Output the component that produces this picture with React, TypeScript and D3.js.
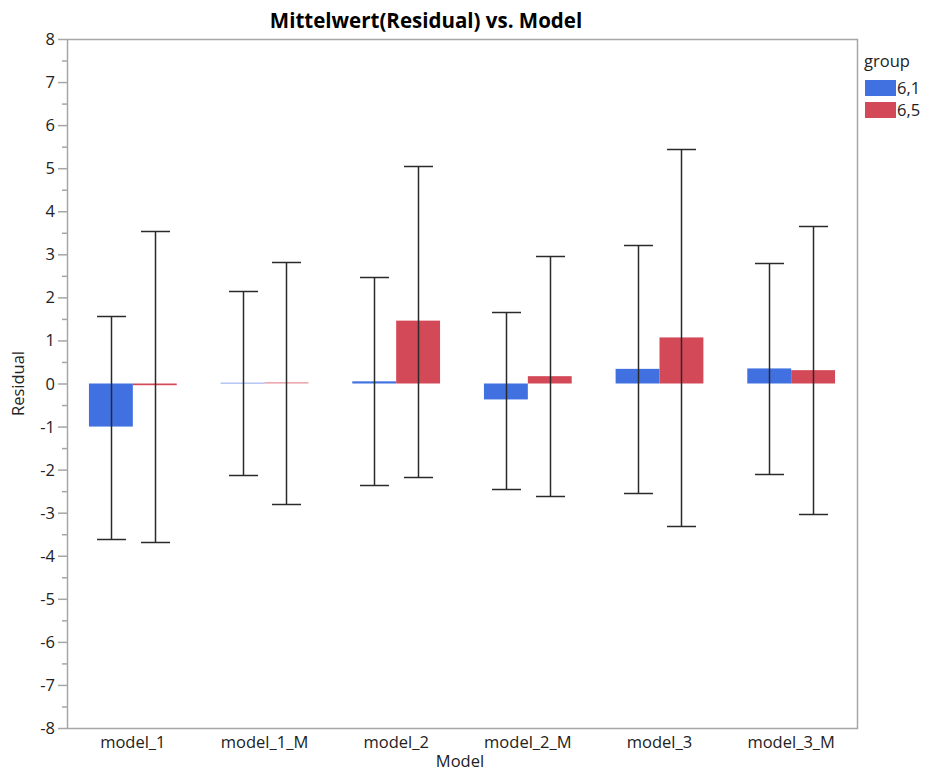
import React from "react";
import * as d3 from "d3";

const categories = ["model_1", "model_1_M", "model_2", "model_2_M", "model_3", "model_3_M"];
const groups = ["6,1", "6,5"];
const colors = ["#4170E0", "#D44958"];
const means61 = [-1.0, 0.02, 0.05, -0.37, 0.34, 0.35];
const means65 = [-0.04, 0.03, 1.46, 0.17, 1.07, 0.31];
const upper61 = [1.57, 2.15, 2.47, 1.67, 3.22, 2.8];
const lower61 = [-3.6, -2.13, -2.35, -2.45, -2.55, -2.1];
const upper65 = [3.55, 2.83, 5.05, 2.97, 5.45, 3.65];
const lower65 = [-3.68, -2.8, -2.17, -2.62, -3.32, -3.03];
const yTicks = d3.range(-8, 9, 1);
const yMinor = d3.range(-7.5, 8, 1);

export default function App() {
  const W = 925, H = 773;
  const left = 67, right = 857, top = 39, bottom = 728;
  const font = "'Open Sans', 'Noto Sans', sans-serif";
  const x = d3.scaleBand().domain(categories).range([left, right]).paddingInner(1 / 3).paddingOuter(1 / 6);
  const xg = d3.scaleBand().domain(groups).range([0, x.bandwidth()]);
  const y = d3.scaleLinear().domain([-8, 8]).range([bottom, top]);
  const means = [means61, means65];
  const uppers = [upper61, upper65];
  const lowers = [lower61, lower65];
  const capW = 29;
  const fs = 16.5;
  return (
    <svg width={W} height={H} style={{ display: "block", position: "absolute", left: 0, top: 0 }} fontFamily={font}>
      <rect x={0} y={0} width={W} height={H} fill="#fff" />
      <text x={426} y={28} textAnchor="middle" fontSize={20.5} fontWeight="bold" fill="#000">
        Mittelwert(Residual) vs. Model
      </text>
      {/* bars */}
      {groups.map((g, gi) =>
        categories.map((c, ci) => {
          const v = means[gi][ci];
          const x0 = (x(c) as number) + (xg(g) as number);
          const y0 = Math.min(y(v), y(0));
          const h = Math.max(Math.abs(y(v) - y(0)), 1);
          return <rect key={g + c} x={x0} y={y0} width={xg.bandwidth()} height={h} fill={colors[gi]} opacity={Math.abs(y(v) - y(0)) < 1.5 ? 0.6 : 1} />;
        })
      )}
      {/* error bars */}
      {groups.map((g, gi) =>
        categories.map((c, ci) => {
          const cx = Math.round((x(c) as number) + (xg(g) as number) + xg.bandwidth() / 2) + 0.5;
          const yu = Math.round(y(uppers[gi][ci])) + 0.5;
          const yl = Math.round(y(lowers[gi][ci])) + 0.5;
          return (
            <g key={"e" + g + c} stroke="#2a2a2a" strokeWidth={1.5}>
              <line x1={cx} x2={cx} y1={yu} y2={yl} />
              <line x1={cx - capW / 2} x2={cx + capW / 2} y1={yu} y2={yu} />
              <line x1={cx - capW / 2} x2={cx + capW / 2} y1={yl} y2={yl} />
            </g>
          );
        })
      )}
      {/* frame */}
      <rect x={left + 0.5} y={top + 0.5} width={right - left} height={bottom - top} fill="none" stroke="#a6a6a6" strokeWidth={1.5} />
      {/* y ticks */}
      {yTicks.map((t) => (
        <g key={"t" + t}>
          <line x1={left - 9} x2={left} y1={y(t) + 0.5} y2={y(t) + 0.5} stroke="#a6a6a6" strokeWidth={1.5} />
          <text x={left - 12} y={y(t) + 6} textAnchor="end" fontSize={fs} fill="#222">
            {t}
          </text>
        </g>
      ))}
      {yMinor.map((t) => (
        <line key={"m" + t} x1={left - 5} x2={left} y1={y(t) + 0.5} y2={y(t) + 0.5} stroke="#a6a6a6" strokeWidth={1.5} />
      ))}
      {/* x labels */}
      {categories.map((c) => (
        <text key={"x" + c} x={(x(c) as number) + x.bandwidth() / 2} y={748} textAnchor="middle" fontSize={fs} fill="#222">
          {c}
        </text>
      ))}
      <text x={460} y={767} textAnchor="middle" fontSize={fs} fill="#222">Model</text>
      <text transform={`translate(24,${(top + bottom) / 2}) rotate(-90)`} textAnchor="middle" fontSize={fs} fill="#222">
        Residual
      </text>
      {/* legend */}
      <text x={864} y={67} fontSize={fs} fill="#222">group</text>
      {groups.map((g, gi) => (
        <g key={"l" + g}>
          <rect x={865} y={80 + gi * 22} width={31} height={16} fill={colors[gi]} />
          <text x={897} y={94 + gi * 22} fontSize={fs} fill="#222">{g}</text>
        </g>
      ))}
    </svg>
  );
}
